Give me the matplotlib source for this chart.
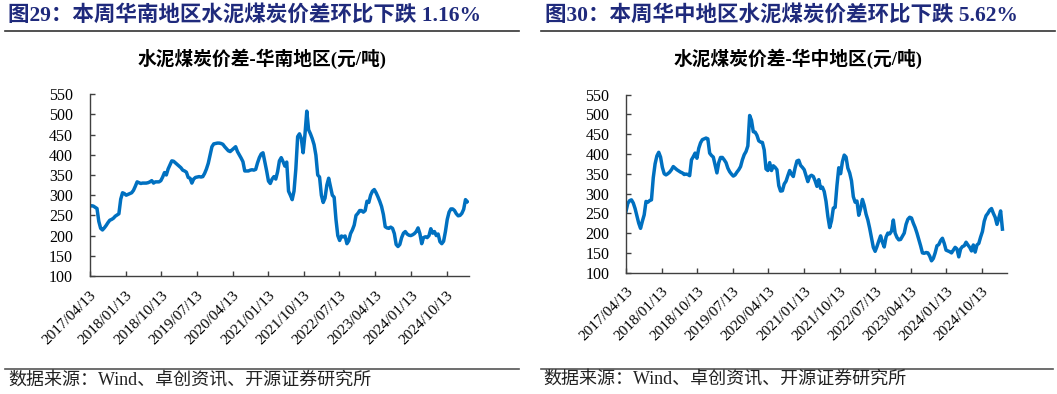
import matplotlib
matplotlib.use('Agg')
import matplotlib.pyplot as plt
from matplotlib.lines import Line2D
import pandas as pd

# Weekly-ish series (one reading every 14 days starting 2017/04/13)
START = '2017-04-13'
STEP = '14D'

tick_labels = ['2017/04/13', '2018/01/13', '2018/10/13', '2019/07/13', '2020/04/13',
               '2021/01/13', '2021/10/13', '2022/07/13', '2023/04/13', '2024/01/13',
               '2024/10/13']
y_ticks = [100, 150, 200, 250, 300, 350, 400, 450, 500, 550]

# 华南地区 cement-coal spread (元/吨)
south_values = [
    272, 274, 273, 270, 267, 235, 218, 214, 219, 225, 232, 238, 240, 243, 248, 251,
    254, 290, 306, 304, 300, 302, 304, 306, 312, 322, 333, 331, 329, 330, 330, 330,
    331, 333, 336, 330, 333, 333, 333, 336, 345, 356, 350, 365, 375, 385, 384, 380,
    376, 372, 368, 362, 360, 357, 344, 342, 330, 340, 344, 345, 346, 345, 346, 354,
    365, 379, 400, 420, 427, 428, 429, 429, 428, 426, 420, 415, 410, 408, 412, 416,
    420, 408, 400, 392, 383, 360, 360, 360, 362, 363, 362, 364, 380, 393, 402, 405,
    383, 360, 335, 329, 340, 346, 340, 358, 385, 393, 383, 372, 382, 310, 300, 289,
    310, 365, 445, 452, 440, 405, 450, 508, 462, 452, 440, 425, 399, 350, 345, 300,
    282, 293, 325, 342, 321, 300, 295, 240, 200, 188, 199, 197, 199, 180, 187, 205,
    214, 226, 250, 255, 262, 262, 258, 262, 285, 282, 300, 310, 314, 306, 296, 285,
    272, 252, 222, 219, 218, 221, 218, 205, 178, 173, 178, 195, 206, 210, 204, 201,
    200, 202, 205, 210, 219, 205, 180, 195, 197, 195, 200, 217, 206, 210, 200, 204,
    185, 180, 186, 210, 240, 258, 266, 266, 262, 254, 249, 250, 255, 265, 289, 284,
]

# 华中地区 cement-coal spread (元/吨)
central_values = [
    255, 275, 282, 284, 276, 262, 243, 225, 212, 230, 246, 280, 278, 282, 284, 340,
    375, 395, 404, 392, 366, 350, 347, 350, 354, 360, 368, 364, 360, 357, 354, 352,
    348, 349, 348, 345, 385, 393, 402, 389, 414, 428, 436, 438, 440, 438, 402, 396,
    392, 372, 352, 378, 391, 391, 385, 378, 364, 355, 349, 344, 347, 354, 360, 368,
    385, 398, 406, 420, 497, 485, 456, 455, 447, 433, 430, 429, 410, 362, 358, 378,
    358, 370, 366, 360, 320, 306, 307, 324, 331, 345, 358, 349, 343, 365, 382, 384,
    371, 366, 360, 345, 330, 343, 346, 343, 332, 318, 335, 313, 316, 305, 280, 242,
    214, 231, 263, 265, 320, 365, 350, 380, 397, 392, 364, 352, 332, 292, 278, 281,
    245, 262, 285, 270, 248, 233, 212, 188, 164, 154, 166, 180, 193, 177, 165, 190,
    200, 198, 205, 233, 200, 189, 183, 184, 192, 200, 222, 235, 240, 238, 225, 214,
    200, 184, 168, 150, 149, 151, 150, 142, 130, 136, 150, 168, 171, 181, 187, 174,
    157, 155, 153, 150, 157, 164, 160, 140, 160, 166, 168, 177, 170, 164, 155, 170,
    152, 170, 174, 190, 204, 230, 244, 250, 258, 262, 250, 240, 222, 238, 256, 210,
]

LINE_COLOR = '#0070C0'
TITLE_COLOR = '#1F2A7C'
AXIS_COLOR = '#404040'
SERIF_CJK = ['Liberation Serif', 'Noto Sans CJK SC']

W, H = 1057, 394


def fx(px):
    return px / W


def fy(py):
    return 1 - py / H


def draw_panel(fig, rect, values, x_end_days, chart_title, chart_title_x):
    ax = fig.add_axes(rect)
    dates = pd.date_range(START, periods=len(values), freq=STEP)
    ax.plot(dates, values, color=LINE_COLOR, linewidth=2.5, solid_joinstyle='round')

    start = pd.Timestamp(START)
    ax.set_xlim(start, start + pd.Timedelta(days=x_end_days))
    ax.set_ylim(100, 550)

    tick_dates = pd.to_datetime(tick_labels, format='%Y/%m/%d')
    ax.set_xticks(tick_dates)
    ax.set_xticklabels(tick_labels, rotation=45, ha='right', rotation_mode='anchor',
                       family='Liberation Serif', fontsize=11)
    ax.set_yticks(y_ticks)
    ax.set_yticklabels([str(v) for v in y_ticks], family='Liberation Serif', fontsize=11.5)

    for side in ['top', 'right']:
        ax.spines[side].set_visible(False)
    for side in ['left', 'bottom']:
        ax.spines[side].set_color(AXIS_COLOR)
        ax.spines[side].set_linewidth(1.0)
    ax.tick_params(axis='both', direction='in', length=3.5, width=1.0,
                   color=AXIS_COLOR, labelcolor='black')
    ax.tick_params(axis='x', pad=9)
    ax.tick_params(axis='y', pad=12)

    fig.text(chart_title_x, fy(58.5), chart_title, ha='center', va='center',
             family=SERIF_CJK, fontsize=13.5, fontweight='bold', color='black')
    return ax


fig = plt.figure(figsize=(W / 100, H / 100), dpi=100)

# left panel
draw_panel(fig, [fx(89.7), fy(276), fx(469 - 89.7), (276 - 94.2) / H],
           south_values, 2911, '水泥煤炭价差-华南地区(元/吨)', fx(262))
fig.text(fx(8), fy(15), '图29：本周华南地区水泥煤炭价差环比下跌 1.16%',
         ha='left', va='center', family=SERIF_CJK, fontsize=15.5,
         fontweight='bold', color=TITLE_COLOR)
fig.add_artist(Line2D([fx(5), fx(519)], [fy(30.5), fy(30.5)], color='#333333', linewidth=1.2))
fig.add_artist(Line2D([fx(5), fx(519)], [fy(369), fy(369)], color='#555555', linewidth=1.2))
fig.text(fx(8), fy(381.5), '数据来源：Wind、卓创资讯、开源证券研究所',
         ha='left', va='center', family=SERIF_CJK, fontsize=13, color='#222222')

# right panel
draw_panel(fig, [fx(626), fy(272.7), fx(1007.5 - 626), (272.7 - 94.5) / H],
           central_values, 2937, '水泥煤炭价差-华中地区(元/吨)', fx(798))
fig.text(fx(545), fy(15), '图30：本周华中地区水泥煤炭价差环比下跌 5.62%',
         ha='left', va='center', family=SERIF_CJK, fontsize=15.5,
         fontweight='bold', color=TITLE_COLOR)
fig.add_artist(Line2D([fx(541), fx(1055)], [fy(30.5), fy(30.5)], color='#333333', linewidth=1.2))
fig.add_artist(Line2D([fx(541), fx(1053)], [fy(368.5), fy(368.5)], color='#555555', linewidth=1.2))
fig.text(fx(543), fy(380.5), '数据来源：Wind、卓创资讯、开源证券研究所',
         ha='left', va='center', family=SERIF_CJK, fontsize=13, color='#222222')

fig.savefig('out.png', dpi=100)
